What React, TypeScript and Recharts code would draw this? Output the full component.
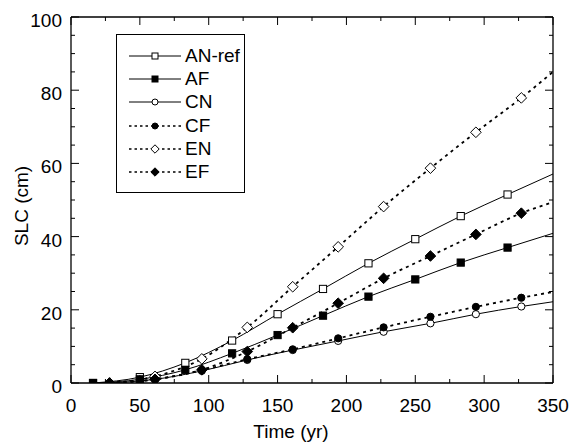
import React from "react";
import { LineChart, Line, XAxis, YAxis, Legend } from "recharts";

// marker positions (yr) - the A runs and the C/E runs are staggered
const xA = [16, 50, 83, 117, 150, 183, 216, 250, 283, 317, 350];
const xCE = [28, 61, 95, 128, 161, 194, 227, 261, 294, 327, 350];

// SLC (cm), last value is the curve end at 350 yr (no marker there)
const anRef = [0, 1.6, 5.5, 11.6, 18.8, 25.7, 32.7, 39.3, 45.6, 51.5, 57.1];
const af = [0, 1.0, 3.6, 8.1, 13.1, 18.4, 23.6, 28.3, 32.9, 37.0, 40.9];
const cn = [0, 1.0, 3.3, 6.3, 9.0, 11.5, 14.0, 16.3, 18.8, 20.9, 22.2];
const cf = [0, 1.0, 3.5, 6.5, 9.2, 12.2, 15.2, 18.1, 20.8, 23.3, 24.9];
const en = [0, 1.8, 6.6, 15.2, 26.3, 37.2, 48.2, 58.7, 68.5, 77.9, 85.0];
const ef = [0, 1.0, 3.6, 8.6, 15.1, 21.8, 28.6, 34.7, 40.6, 46.4, 49.4];

const xTicks = [0, 25, 50, 75, 100, 125, 150, 175, 200, 225, 250, 275, 300, 325, 350];
const yTicks = [0, 5, 10, 15, 20, 25, 30, 35, 40, 45, 50, 55, 60, 65, 70, 75, 80, 85, 90, 95, 100];

const toPoints = (xs: number[], ys: number[]) => xs.map((t, i) => ({ t, v: ys[i] }));

type Shape = "square" | "circle" | "diamond";

const FONT = "'Liberation Sans', Arial, Helvetica, sans-serif";

const Marker = ({ shape, filled, cx, cy, s }: any) => {
  const fill = filled ? "#000" : "#fff";
  if (shape === "square")
    return <rect x={cx - s} y={cy - s} width={2 * s} height={2 * s} fill={fill} stroke="#000" strokeWidth={1} />;
  if (shape === "circle") return <circle cx={cx} cy={cy} r={s} fill={fill} stroke="#000" strokeWidth={1} />;
  const d = s * 1.4;
  return (
    <polygon
      points={`${cx},${cy - d} ${cx + d},${cy} ${cx},${cy + d} ${cx - d},${cy}`}
      fill={fill}
      stroke="#000"
      strokeWidth={1}
    />
  );
};

// A runs go on the bottom/left axes, C and E runs on the top/right ones (same scales)
const seriesList = [
  { name: "AN-ref", xs: xA, ys: anRef, shape: "square" as Shape, filled: false, dashed: false, side: "a" },
  { name: "AF", xs: xA, ys: af, shape: "square" as Shape, filled: true, dashed: false, side: "a" },
  { name: "CN", xs: xCE, ys: cn, shape: "circle" as Shape, filled: false, dashed: false, side: "b" },
  { name: "CF", xs: xCE, ys: cf, shape: "circle" as Shape, filled: true, dashed: true, side: "b" },
  { name: "EN", xs: xCE, ys: en, shape: "diamond" as Shape, filled: false, dashed: true, side: "b" },
  { name: "EF", xs: xCE, ys: ef, shape: "diamond" as Shape, filled: true, dashed: true, side: "b" },
];

const BottomTick = ({ x, y, payload }: any) => {
  const major = payload.value % 50 === 0;
  return (
    <g>
      <line x1={x} y1={y} x2={x} y2={y - (major ? 8 : 4)} stroke="#000" strokeWidth={1} />
      {major && (
        <text x={x} y={y + 29} textAnchor="middle" fontSize={19} fontFamily={FONT} fill="#000">
          {payload.value}
        </text>
      )}
    </g>
  );
};

const TopTick = ({ x, y, payload }: any) => {
  const major = payload.value % 50 === 0;
  return <line x1={x} y1={y} x2={x} y2={y + (major ? 8 : 4)} stroke="#000" strokeWidth={1} />;
};

const LeftTick = ({ x, y, payload }: any) => {
  const major = payload.value % 20 === 0;
  return (
    <g>
      <line x1={x} y1={y} x2={x + (major ? 8 : 4)} y2={y} stroke="#000" strokeWidth={1} />
      {major && (
        <text x={x - 9} y={y + 10} textAnchor="end" fontSize={19} fontFamily={FONT} fill="#000">
          {payload.value}
        </text>
      )}
    </g>
  );
};

const RightTick = ({ x, y, payload }: any) => {
  const major = payload.value % 20 === 0;
  return <line x1={x} y1={y} x2={x - (major ? 8 : 4)} y2={y} stroke="#000" strokeWidth={1} />;
};

const LegendBox = () => (
  <div
    style={{
      border: "1.3px solid #000",
      background: "#fff",
      width: 129,
      height: 159,
      boxSizing: "border-box",
      paddingTop: 9,
    }}
  >
    {seriesList.map((s) => (
      <div key={s.name} style={{ display: "flex", alignItems: "center", height: 23.3, whiteSpace: "nowrap" }}>
        <svg width={57} height={14} style={{ marginLeft: 11, flex: "none" }}>
          <line
            x1={1}
            y1={7}
            x2={53}
            y2={7}
            stroke="#000"
            strokeWidth={s.dashed ? 1.5 : 1}
            strokeDasharray={s.dashed ? "2.5 3" : undefined}
          />
          <Marker shape={s.shape} filled={s.filled} cx={27} cy={7} s={3} />
        </svg>
        <span style={{ fontFamily: FONT, fontSize: 19, lineHeight: "20px" }}>{s.name}</span>
      </div>
    ))}
  </div>
);

const axisLine = { stroke: "#000", strokeWidth: 1.3 };

export default function App() {
  return (
    <div style={{ position: "absolute", left: 0, top: 0, background: "#fff" }}>
      <LineChart width={571} height={443} margin={{ top: 16, right: 17, bottom: 0, left: 0 }}>
        <XAxis
          xAxisId="a"
          dataKey="t"
          type="number"
          domain={[0, 350]}
          allowDataOverflow
          ticks={xTicks}
          interval={0}
          tickLine={false}
          tickSize={0}
          tickMargin={0}
          height={60}
          axisLine={axisLine}
          tick={<BottomTick />}
          label={(props: any) => {
            const vb = props.viewBox;
            return (
              <text x={vb.x + 220} y={vb.y + 55} textAnchor="middle" fontSize={19} fontFamily={FONT} fill="#000">
                Time (yr)
              </text>
            );
          }}
        />
        <XAxis
          xAxisId="b"
          orientation="top"
          dataKey="t"
          type="number"
          domain={[0, 350]}
          allowDataOverflow
          ticks={xTicks}
          interval={0}
          tickLine={false}
          tickSize={0}
          tickMargin={0}
          height={1}
          axisLine={axisLine}
          tick={<TopTick />}
        />
        <YAxis
          yAxisId="a"
          type="number"
          domain={[0, 100]}
          allowDataOverflow
          ticks={yTicks}
          interval={0}
          tickLine={false}
          tickSize={0}
          tickMargin={0}
          width={71}
          axisLine={axisLine}
          tick={<LeftTick />}
          label={(props: any) => {
            const vb = props.viewBox;
            const cx = 21;
            const cy = vb.y + vb.height / 2 + 6;
            return (
              <text
                x={cx}
                y={cy}
                transform={`rotate(-90, ${cx}, ${cy})`}
                textAnchor="middle"
                dominantBaseline="central"
                fontSize={19}
                fontFamily={FONT}
                fill="#000"
              >
                SLC (cm)
              </text>
            );
          }}
        />
        <YAxis
          yAxisId="b"
          orientation="right"
          type="number"
          domain={[0, 100]}
          allowDataOverflow
          ticks={yTicks}
          interval={0}
          tickLine={false}
          tickSize={0}
          tickMargin={0}
          width={1}
          axisLine={axisLine}
          tick={<RightTick />}
        />
        <Legend
          layout="vertical"
          verticalAlign="middle"
          align="center"
          wrapperStyle={{ left: 116, top: 34, width: 129 }}
          content={() => <LegendBox />}
        />
        {seriesList.map((s) => (
          <Line
            key={s.name}
            name={s.name}
            xAxisId={s.side}
            yAxisId={s.side}
            data={toPoints(s.xs, s.ys)}
            dataKey="v"
            type="monotone"
            stroke="#000"
            strokeWidth={s.dashed ? 1.8 : 1}
            strokeDasharray={s.dashed ? "3 4" : undefined}
            isAnimationActive={false}
            activeDot={false}
            dot={(p: any) =>
              p.index === s.xs.length - 1 ? (
                <g key={`${s.name}-${p.index}`} />
              ) : (
                <g key={`${s.name}-${p.index}`}>
                  <Marker shape={s.shape} filled={s.filled} cx={p.cx} cy={p.cy} s={s.shape === "diamond" ? 3.8 : 3.6} />
                </g>
              )
            }
          />
        ))}
      </LineChart>
    </div>
  );
}
